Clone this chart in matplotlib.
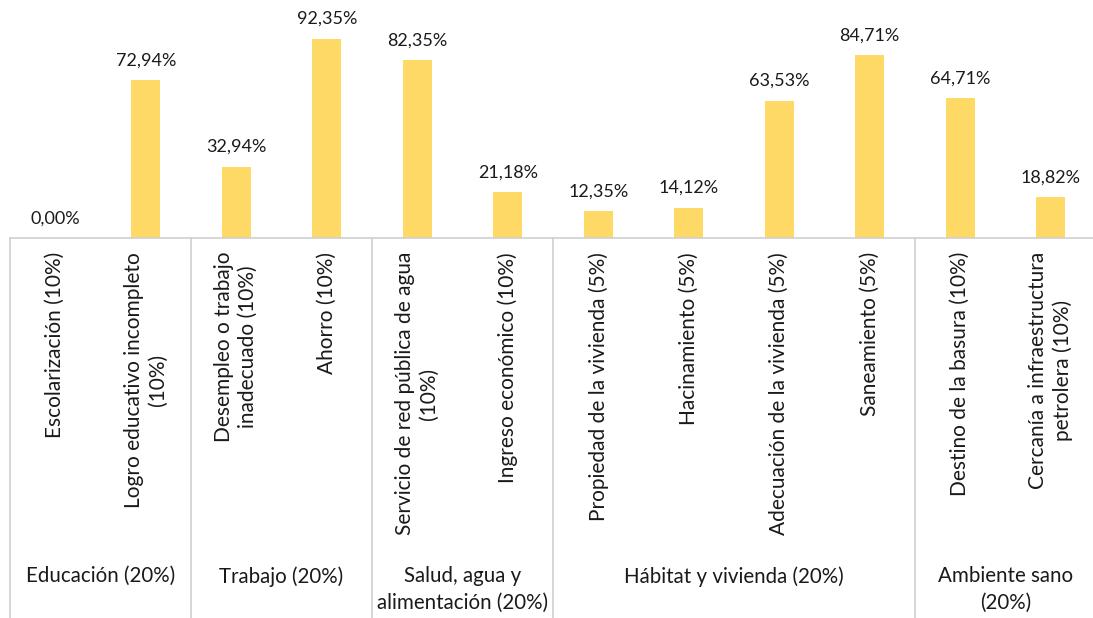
import matplotlib
matplotlib.use('agg')
import matplotlib.pyplot as plt
import numpy as np

indicators = ['Escolarización (10%)', 'Logro educativo incompleto\n(10%)',
              'Desempleo o trabajo\ninadecuado (10%)', 'Ahorro (10%)',
              'Servicio de red pública de agua\n(10%)', 'Ingreso económico (10%)',
              'Propiedad de la vivienda (5%)', 'Hacinamiento (5%)',
              'Adecuación de la vivienda (5%)', 'Saneamiento (5%)',
              'Destino de la basura (10%)', 'Cercanía a infraestructura\npetrolera (10%)']
values = [0.00, 72.94, 32.94, 92.35, 82.35, 21.18, 12.35, 14.12, 63.53, 84.71, 64.71, 18.82]
groups = ['Educación (20%)', 'Trabajo (20%)', 'Salud, agua y\nalimentación (20%)',
          'Hábitat y vivienda (20%)', 'Ambiente sano\n(20%)']
group_sizes = [2, 2, 2, 4, 2]

plt.rcParams['font.family'] = ['Lato', 'DejaVu Sans']
text_color = '#1a1a1a'
line_color = '#D0D0D0'

W, H = 1093, 618
fig = plt.figure(figsize=(W / 100, H / 100), dpi=100)
axis_y, top_y, left_x, slot = 238, 22, 10, 90.5
ax = fig.add_axes([left_x / W, (H - axis_y) / H, 12 * slot / W, (axis_y - top_y) / H])

x = np.arange(len(values))
bars = ax.bar(x, values, width=0.32, color='#FFD966')
ax.set_xlim(-0.5, len(values) - 0.5)
ax.set_ylim(0, 100)

for b, v in zip(bars, values):
    ax.annotate('{:.2f}%'.format(v).replace('.', ','),
                (b.get_x() + b.get_width() / 2, v), xytext=(0, 8.5),
                textcoords='offset points', ha='center', va='bottom',
                fontsize=13, color=text_color)

for s in ['top', 'left', 'right']:
    ax.spines[s].set_visible(False)
ax.spines['bottom'].set_color(line_color)
ax.spines['bottom'].set_linewidth(1.2)
ax.set_yticks([])
ax.set_xticks(x)
ax.set_xticklabels(indicators, rotation=90, ha='center', va='top',
                   multialignment='center', fontsize=15, color=text_color,
                   linespacing=1.25)
ax.tick_params(axis='x', length=0, pad=10)

# group separators and category labels below the axis
ax_h = axis_y - top_y
trans = ax.get_xaxis_transform()
edges = np.concatenate([[0], np.cumsum(group_sizes)]) - 0.5
for e in edges:
    ax.plot([e, e], [0, -(H - axis_y) / ax_h], transform=trans,
            color=line_color, lw=1.2, clip_on=False)
label_y = -(566 - axis_y) / ax_h
for g, a, b in zip(groups, edges[:-1], edges[1:]):
    ax.text((a + b) / 2, label_y, g, transform=trans, ha='center', va='top',
            fontsize=14.8, color=text_color, linespacing=1.45)

fig.savefig('out.png', dpi=100)
